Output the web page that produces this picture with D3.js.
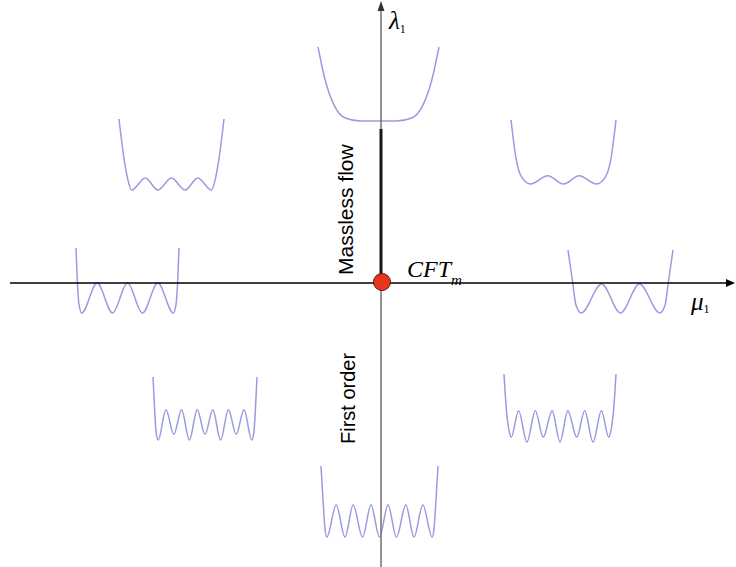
<!DOCTYPE html>
<html>
<head>
<meta charset="utf-8">
<script src="https://cdn.jsdelivr.net/npm/d3@7"></script>
<style>
  body { margin: 0; background: #fff; }
  svg { display: block; }
</style>
</head>
<body>
<script>
var width = 736;
var height = 567;

// potential shapes: [phi, V] key points (phi in -1..1, V in 0..1 of the inset)
var potTop = [[-1,1],[-0.88,0.55],[-0.72,0.19],[-0.55,0.04],[-0.3,0],[0,0],[0.3,0],[0.55,0.04],[0.72,0.19],[0.88,0.55],[1,1]];
var potUpLeft = [[-1,1],[-0.9,0.42],[-0.83,0.14],[-0.76,0],[-0.5,0.17],[-0.26,0],[0,0.17],[0.26,0],[0.5,0.17],[0.76,0],[0.83,0.14],[0.9,0.42],[1,1]];
var potUpRight = [[-1,1],[-0.9,0.38],[-0.8,0.11],[-0.63,0],[-0.3,0.13],[0,0],[0.3,0.13],[0.63,0],[0.8,0.11],[0.9,0.38],[1,1]];
var potMidLeft = [[-1,1],[-0.975,0.5],[-0.94,0.12],[-0.89,0],[-0.59,0.46],[-0.29,0],[0,0.46],[0.29,0],[0.59,0.46],[0.89,0],[0.94,0.12],[0.975,0.5],[1,1]];
var potMidRight = [[-1,1],[-0.91,0.48],[-0.85,0.13],[-0.75,0],[-0.36,0.46],[0,0],[0.36,0.46],[0.75,0],[0.85,0.13],[0.91,0.48],[1,1]];
var potLowLeft = [[-1,1],[-0.97,0.5],[-0.94,0.12],[-0.9,0],[-0.75,0.48],[-0.6,0.09],[-0.45,0.48],[-0.3,0],[-0.15,0.48],[0,0.09],[0.15,0.48],[0.3,0],[0.45,0.48],[0.6,0.09],[0.75,0.48],[0.9,0],[0.94,0.12],[0.97,0.5],[1,1]];
var potLowRight = [[-1,1],[-0.96,0.5],[-0.91,0.17],[-0.87,0.07],[-0.74,0.46],[-0.59,0],[-0.44,0.46],[-0.3,0.07],[-0.14,0.46],[0,0],[0.14,0.46],[0.3,0.07],[0.44,0.46],[0.59,0],[0.74,0.46],[0.87,0.07],[0.91,0.17],[0.96,0.5],[1,1]];
var potBottom = [[-1,1],[-0.96,0.45],[-0.93,0.1],[-0.9,0],[-0.74,0.45],[-0.59,0],[-0.45,0.45],[-0.29,0],[-0.145,0.45],[0,0],[0.145,0.45],[0.29,0],[0.45,0.45],[0.59,0],[0.74,0.45],[0.9,0],[0.93,0.1],[0.96,0.45],[1,1]];

// massless flow segment along lambda axis (lambda values) and the CFT point
var masslessFlow = [0, 1];
var cftPoint = [0, 0];

// where each little inset sits on the page [left, right, top, bottom]
var insets = [
  {pot: potTop,      box: [318, 439, 47, 121]},
  {pot: potUpLeft,   box: [119, 224, 119, 190]},
  {pot: potUpRight,  box: [511, 616, 120, 184]},
  {pot: potMidLeft,  box: [76, 179, 248, 313]},
  {pot: potMidRight, box: [568, 673, 250, 313]},
  {pot: potLowLeft,  box: [153, 257, 377, 440]},
  {pot: potLowRight, box: [504, 616, 374, 442]},
  {pot: potBottom,   box: [321, 438, 466, 537]}
];

var svg = d3.select('body').append('svg')
    .attr('width', width)
    .attr('height', height);

// main plane scales: mu horizontal, lambda vertical
var x = d3.scaleLinear().domain([-1, 1]).range([10, 752]);
var y = d3.scaleLinear().domain([0, 1]).range([283, 129]);

// insets
insets.forEach(function(d){
    var xs = d3.scaleLinear().domain([-1, 1]).range([d.box[0], d.box[1]]);
    var ys = d3.scaleLinear().domain([0, 1]).range([d.box[3], d.box[2]]);
    var line = d3.line()
        .x(function(p){ return xs(p[0]); })
        .y(function(p){ return ys(p[1]); })
        .curve(d3.curveMonotoneX);
    svg.append('path')
        .attr('d', line(d.pot))
        .attr('fill', 'none')
        .attr('stroke', '#9a9ae0')
        .attr('stroke-width', 1.5);
});

// horizontal axis (mu)
var x0 = x(0), y0 = y(0);
svg.append('line')
    .attr('x1', 10).attr('x2', 729)
    .attr('y1', y0).attr('y2', y0)
    .attr('stroke', '#000').attr('stroke-width', 1.3);
svg.append('path')
    .attr('d', 'M735,' + y0 + 'L726,' + (y0 - 4) + 'L726,' + (y0 + 4) + 'Z')
    .attr('fill', '#000');

// vertical axis (lambda)
svg.append('line')
    .attr('x1', x0).attr('x2', x0)
    .attr('y1', 567).attr('y2', 9)
    .attr('stroke', '#7a6c6c').attr('stroke-width', 1.5);
svg.append('path')
    .attr('d', 'M' + x0 + ',1L' + (x0 - 3.5) + ',11L' + (x0 + 3.5) + ',11Z')
    .attr('fill', '#3a3030');

// massless flow segment
svg.append('line')
    .attr('x1', x0).attr('x2', x0)
    .attr('y1', y(masslessFlow[0])).attr('y2', y(masslessFlow[1]))
    .attr('stroke', '#1e1414').attr('stroke-width', 3);

// CFT point
svg.append('circle')
    .attr('cx', x(cftPoint[0]) + 1).attr('cy', y(cftPoint[1]) - 1)
    .attr('r', 8.5)
    .attr('fill', '#e8361c')
    .attr('stroke', '#5a1a10').attr('stroke-width', 1);

// labels
var serif = "'Liberation Serif', 'DejaVu Serif', serif";
var sans = "'Liberation Sans', Arial, sans-serif";

var lam = svg.append('text')
    .attr('x', 389).attr('y', 29)
    .attr('font-family', serif).attr('font-style', 'italic')
    .attr('font-size', 25).attr('fill', '#000');
lam.append('tspan').text('λ');
lam.append('tspan').attr('font-size', 12).attr('font-style', 'normal').attr('dy', 4).text('1');

var mu = svg.append('text')
    .attr('x', 691).attr('y', 310)
    .attr('font-family', serif).attr('font-style', 'italic')
    .attr('font-size', 25).attr('fill', '#000');
mu.append('tspan').text('μ');
mu.append('tspan').attr('font-size', 12).attr('font-style', 'normal').attr('dy', 3).text('1');

var cft = svg.append('text')
    .attr('x', 407).attr('y', 277)
    .attr('font-family', serif).attr('font-style', 'italic')
    .attr('font-size', 24).attr('fill', '#000');
cft.append('tspan').text('CFT');
cft.append('tspan').attr('font-size', 15).attr('dy', 8).text('m');

svg.append('text')
    .attr('transform', 'translate(353,275) rotate(-90)')
    .attr('font-family', sans)
    .attr('font-size', 21).attr('fill', '#000')
    .text('Massless flow');

svg.append('text')
    .attr('transform', 'translate(355,444) rotate(-90)')
    .attr('font-family', sans)
    .attr('font-size', 20).attr('fill', '#000')
    .text('First order');
</script>
</body>
</html>
